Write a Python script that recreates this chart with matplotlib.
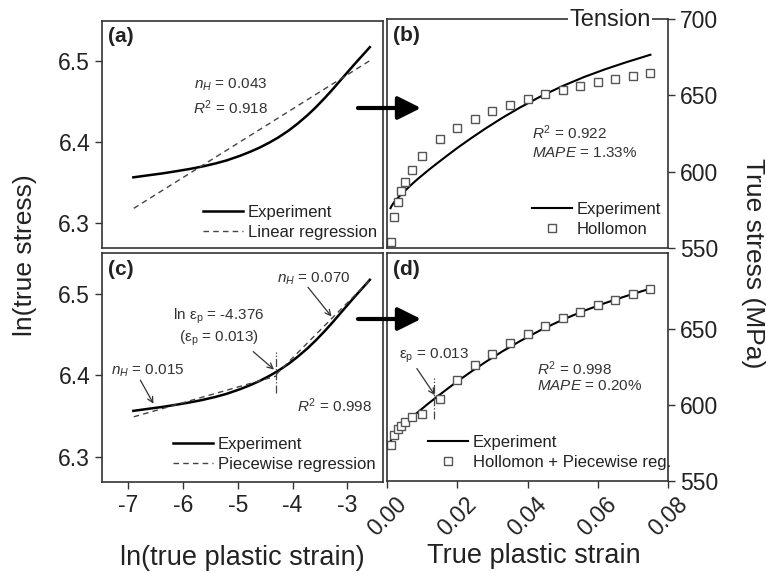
import numpy as np
import matplotlib
matplotlib.use("Agg")
import matplotlib.pyplot as plt
from matplotlib.patches import FancyArrowPatch

plt.rcParams["font.family"] = ["Liberation Sans", "DejaVu Sans"]
plt.rcParams["mathtext.fontset"] = "custom"
plt.rcParams["mathtext.rm"] = "Liberation Sans"
plt.rcParams["mathtext.it"] = "Liberation Sans:italic"
plt.rcParams["axes.unicode_minus"] = False

# experiment (true plastic strain, true stress in MPa)
exp_strain = [0.001, 0.0013, 0.0017, 0.0022, 0.0028, 0.0035, 0.0045, 0.0055,
              0.007, 0.0085, 0.010, 0.012, 0.014, 0.017, 0.020, 0.024, 0.028,
              0.033, 0.038, 0.044, 0.050, 0.056, 0.062, 0.068, 0.075]
exp_stress = [576.1, 577.5, 578.9, 580.5, 582.1, 583.8, 586.1, 588.3,
              591.6, 594.7, 597.6, 601.4, 605.0, 610.3, 615.5, 622.0, 628.2,
              635.5, 642.2, 649.6, 656.1, 661.9, 667.0, 671.6, 676.6]

# linear regression in log space (a)
lin_x = [-6.9, -2.6]
lin_y = [6.318, 6.500]

# piecewise regression in log space (c)
pw1_x = [-6.9, -4.3]
pw1_y = [6.349, 6.399]
pw2_x = [-4.3, -2.6]
pw2_y = [6.401, 6.516]
bp_ln = -4.3
bp_ln_span = [6.378, 6.429]

# model points
fit_strain = [0.001, 0.002, 0.003, 0.004, 0.005, 0.007, 0.010, 0.015, 0.020,
              0.025, 0.030, 0.035, 0.040, 0.045, 0.050, 0.055, 0.060, 0.065,
              0.070, 0.075]
hollomon = [553.9, 570.0, 580.0, 587.4, 593.0, 601.1, 610.4, 621.3, 628.7,
            634.8, 639.6, 643.7, 647.8, 650.6, 653.7, 656.3, 658.7, 660.9,
            662.8, 664.8]
hollomon_pw = [573.6, 580.1, 584.0, 586.1, 589.0, 592.0, 594.4, 603.9, 616.4,
               626.2, 633.8, 640.7, 646.8, 652.2, 657.1, 661.2, 665.6, 669.3,
               672.7, 676.0]
bp_strain = 0.0135
bp_strain_span = [590.5, 617.5]

W, H = 766, 573
TXT = "#222222"
GRAY = "#333333"


def px_axes(left, top, right, bottom):
    return [left / W, 1 - bottom / H, (right - left) / W, (bottom - top) / H]


fig = plt.figure(figsize=(W / 100, H / 100), dpi=100)
ax_a = fig.add_axes(px_axes(102, 20.5, 383, 248))
ax_b = fig.add_axes(px_axes(387, 19, 668, 248))
ax_c = fig.add_axes(px_axes(102, 253, 383, 482))
ax_d = fig.add_axes(px_axes(387, 253, 668, 481))

for ax in (ax_a, ax_b, ax_c, ax_d):
    for s in ax.spines.values():
        s.set_color(GRAY)
        s.set_linewidth(1.2)
    ax.tick_params(direction="out", length=5, width=1, color=GRAY,
                   labelsize=16.5, labelcolor=TXT)

# left panels: log-log
ln_strain = np.log(exp_strain)
ln_stress = np.log(exp_stress)
for ax in (ax_a, ax_c):
    ax.set_xlim(-7.48, -2.35)
    ax.set_ylim(6.269, 6.55)
    ax.set_yticks([6.3, 6.4, 6.5])
    ax.set_xticks([-7, -6, -5, -4, -3])
ax_a.tick_params(axis="x", bottom=False, labelbottom=False)

ax_a.plot(ln_strain, ln_stress, color="black", lw=1.8, label="Experiment")
ax_a.plot(lin_x, lin_y, color="#444444", lw=1, dashes=(4, 3),
          label="Linear regression")

ax_c.plot(ln_strain, ln_stress, color="black", lw=1.8, label="Experiment")
ax_c.plot(pw1_x, pw1_y, color="#444444", lw=1, dashes=(4, 3),
          label="Piecewise regression")
ax_c.plot(pw2_x, pw2_y, color="#444444", lw=1, dashes=(4, 3))
ax_c.plot([bp_ln, bp_ln], bp_ln_span, color="#444444", lw=0.9, ls="-.")

# right panels: stress vs strain
for ax in (ax_b, ax_d):
    ax.set_xlim(0, 0.08)
    ax.set_ylim(550, 700)
    ax.yaxis.tick_right()
    ax.set_xticks([0, 0.02, 0.04, 0.06, 0.08])
ax_b.set_yticks([550, 600, 650, 700])
ax_d.set_yticks([550, 600, 650])
ax_b.tick_params(axis="x", bottom=False, labelbottom=False)
ax_d.set_xticklabels(["0.00", "0.02", "0.04", "0.06", "0.08"], rotation=45)

ax_b.plot(exp_strain, exp_stress, color="black", lw=1.5, label="Experiment")
ax_b.plot(fit_strain, hollomon, ls="none", marker="s", ms=6, mfc="white",
          mec="#555555", mew=1, clip_on=False, label="Hollomon")

ax_d.plot(exp_strain, exp_stress, color="black", lw=1.5, label="Experiment")
ax_d.plot(fit_strain, hollomon_pw, ls="none", marker="s", ms=6, mfc="white",
          mec="#555555", mew=1, clip_on=False,
          label="Hollomon + Piecewise reg.")
ax_d.plot([bp_strain, bp_strain], bp_strain_span, color="#444444", lw=0.9,
          ls="-.")

# panel letters
for ax, lab in ((ax_a, "(a)"), (ax_b, "(b)"), (ax_c, "(c)"), (ax_d, "(d)")):
    ax.text(0.02, 0.97, lab, transform=ax.transAxes, ha="left", va="top",
            fontsize=15, fontweight="bold", color=TXT)

# legends
leg_kw = dict(frameon=False, fontsize=12, handlelength=2.4, handletextpad=0.3,
              labelspacing=0.3, borderpad=0, borderaxespad=0, numpoints=1,
              loc="upper left")
for ax, anchor in ((ax_a, (0.359, 0.189)), (ax_b, (0.516, 0.201)),
                   (ax_c, (0.253, 0.196)), (ax_d, (0.146, 0.202))):
    leg = ax.legend(bbox_to_anchor=anchor, **leg_kw)
    for t in leg.get_texts():
        t.set_color(TXT)

# annotations
ann = dict(fontsize=11, color="#333333")
arr = dict(arrowstyle="->", color="#333333", lw=0.9, shrinkA=0, shrinkB=0)
ax_a.text(-5.13, 6.470, "$n_H$ = 0.043", ha="center", va="center", **ann)
ax_a.text(-5.13, 6.442, "$R^2$ = 0.918", ha="center", va="center", **ann)

ax_b.text(0.0413, 625.3, "$R^2$ = 0.922", ha="left", va="center", **ann)
ax_b.text(0.0413, 612.3, "$MAPE$ = 1.33%", ha="left", va="center", **ann)

ax_c.text(-3.62, 6.518, "$n_H$ = 0.070", ha="center", va="center", **ann)
ax_c.annotate("", xy=(-3.29, 6.472), xytext=(-3.72, 6.508), arrowprops=arr)
ax_c.text(-5.35, 6.472, "ln ε$_\\mathregular{p}$ = -4.376", ha="center",
          va="center", **ann)
ax_c.text(-5.35, 6.445, "(ε$_\\mathregular{p}$ = 0.013)", ha="center",
          va="center", **ann)
ax_c.annotate("", xy=(-4.34, 6.407), xytext=(-4.72, 6.429), arrowprops=arr)
ax_c.text(-6.65, 6.405, "$n_H$ = 0.015", ha="center", va="center", **ann)
ax_c.annotate("", xy=(-6.54, 6.365), xytext=(-6.78, 6.394), arrowprops=arr)
ax_c.text(-3.23, 6.363, "$R^2$ = 0.998", ha="center", va="center", **ann)

ax_d.text(0.0133, 632.5, "ε$_\\mathregular{p}$ = 0.013", ha="center",
          va="center", **ann)
ax_d.annotate("", xy=(0.0136, 606.5), xytext=(0.0085, 624), arrowprops=arr)
ax_d.text(0.0427, 624, "$R^2$ = 0.998", ha="left", va="center", **ann)
ax_d.text(0.0427, 612.3, "$MAPE$ = 0.20%", ha="left", va="center", **ann)

# "Tension" label sitting on top frame of (b)
ax_b.text(0.794, 0.995, "Tension", transform=ax_b.transAxes, ha="center",
          va="center", fontsize=17, color=TXT, zorder=10, clip_on=False,
          bbox=dict(facecolor="white", edgecolor="none", pad=1))

# axis titles
fig.text(25 / W, 1 - 255 / H, "ln(true stress)", rotation=90, ha="center",
         va="center", fontsize=19, color=TXT)
fig.text(753 / W, 1 - 263 / H, "True stress (MPa)", rotation=-90,
         ha="center", va="center", fontsize=19, color=TXT)
fig.text(242 / W, 1 - 558 / H, "ln(true plastic strain)", ha="center",
         va="center", fontsize=19.5, color=TXT)
fig.text(534 / W, 1 - 556 / H, "True plastic strain", ha="center",
         va="center", fontsize=19.5, color=TXT)

# arrows from left panels to right panels
for y in (108, 319):
    fig.add_artist(FancyArrowPatch(
        posA=(358 / W, 1 - y / H), posB=(421 / W, 1 - y / H),
        transform=fig.transFigure, arrowstyle="-|>,head_length=0.7,head_width=0.35",
        mutation_scale=20, lw=3, color="black", shrinkA=0, shrinkB=0,
        zorder=20))

fig.savefig("out.png", dpi=100)
